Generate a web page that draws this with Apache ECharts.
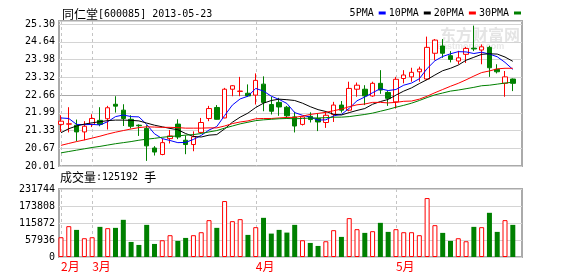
<!DOCTYPE html>
<html><head><meta charset="utf-8">
<script src="https://cdn.jsdelivr.net/npm/echarts@6/dist/echarts.min.js"></script>
<style>html,body{margin:0;padding:0;background:#fff}#c{width:578px;height:276px}</style>
</head><body><div id="c"></div>
<script>
const dates = ['2013-02-25','2013-02-26','2013-02-27','2013-02-28',
'2013-03-01','2013-03-04','2013-03-05','2013-03-06','2013-03-07','2013-03-08','2013-03-11','2013-03-12','2013-03-13','2013-03-14','2013-03-15','2013-03-18','2013-03-19','2013-03-20','2013-03-21','2013-03-22','2013-03-25','2013-03-26','2013-03-27','2013-03-28','2013-03-29',
'2013-04-01','2013-04-02','2013-04-03','2013-04-08','2013-04-09','2013-04-10','2013-04-11','2013-04-12','2013-04-15','2013-04-16','2013-04-17','2013-04-18','2013-04-19','2013-04-22','2013-04-23','2013-04-24','2013-04-25','2013-04-26',
'2013-05-02','2013-05-03','2013-05-06','2013-05-07','2013-05-08','2013-05-09','2013-05-10','2013-05-13','2013-05-14','2013-05-15','2013-05-16','2013-05-17','2013-05-20','2013-05-21','2013-05-22','2013-05-23'];

const opens  = [21.56,21.57,21.53,21.28,21.56,21.71,21.77,22.31,22.09,21.75,21.53,21.41,20.68,20.44,21.03,21.57,20.97,20.81,21.26,21.78,22.19,21.80,22.87,22.79,22.72,22.65,23.06,22.30,22.38,22.20,21.84,21.56,21.86,21.78,21.63,21.93,22.28,22.09,22.87,22.87,22.62,23.09,22.75,22.40,23.27,23.33,23.52,23.25,24.21,24.48,24.12,23.92,24.17,24.40,24.33,24.43,23.61,23.09,23.25];
const closes = [21.68,21.58,21.28,21.49,21.78,21.56,22.18,22.24,21.78,21.49,21.51,20.76,20.53,20.88,21.13,21.09,20.81,21.10,21.63,22.15,21.75,22.87,23.00,22.80,22.62,23.20,22.38,22.05,22.21,21.88,21.50,21.84,21.74,21.65,21.90,22.28,22.09,22.90,23.02,22.62,23.09,22.84,22.53,23.24,23.40,23.50,23.62,24.43,24.70,24.21,23.98,24.04,24.39,24.37,24.45,23.67,23.52,23.33,23.09];
const lows   = [21.28,21.26,20.93,20.97,21.46,21.49,21.37,22.00,21.50,21.41,21.13,20.20,20.40,20.41,20.85,21.01,20.45,20.56,21.22,21.68,21.74,21.79,22.61,22.61,22.59,22.30,22.05,21.93,21.88,21.80,21.26,21.52,21.63,21.31,21.43,21.65,22.00,22.05,22.59,22.28,22.59,22.70,22.25,22.15,23.09,23.15,23.15,23.21,23.95,24.04,23.87,23.80,23.85,24.29,23.80,23.33,23.46,22.59,22.80];
const highs  = [21.90,22.20,21.74,21.68,21.94,22.20,22.25,22.61,22.31,21.90,21.56,21.53,20.75,21.03,21.35,21.75,21.15,21.30,21.80,22.25,22.28,22.92,23.02,23.33,23.05,23.46,23.35,22.59,22.55,22.25,22.03,21.86,22.01,21.98,22.05,22.40,22.43,23.15,23.12,23.02,23.15,23.58,22.80,23.33,23.58,23.67,23.71,24.83,24.74,24.74,24.29,24.30,24.45,25.24,24.54,24.49,23.80,23.55,23.27];

const ma5  = [21.80,21.78,21.56,21.55,21.56,21.54,21.66,21.85,21.91,21.85,21.84,21.56,21.21,21.03,20.96,20.88,20.89,21.00,21.15,21.35,21.48,21.89,22.28,22.51,22.61,22.90,22.80,22.61,22.49,22.34,22.00,21.90,21.83,21.72,21.73,21.88,21.93,22.16,22.44,22.58,22.74,22.89,22.82,22.86,23.02,23.10,23.26,23.64,23.93,24.09,24.19,24.27,24.26,24.20,24.25,24.18,24.08,23.87,23.61];
const ma10 = [21.25,21.40,21.50,21.57,21.62,21.66,21.70,21.72,21.72,21.71,21.69,21.61,21.53,21.47,21.41,21.36,21.22,21.11,21.09,21.16,21.18,21.39,21.64,21.83,21.98,22.19,22.35,22.45,22.50,22.48,22.45,22.35,22.22,22.11,22.04,21.94,21.91,22.00,22.08,22.15,22.31,22.41,22.49,22.65,22.80,22.92,23.08,23.23,23.40,23.56,23.65,23.77,23.95,24.06,24.17,24.19,24.18,24.07,23.91];
const ma20 = [20.78,20.85,20.92,20.98,21.05,21.12,21.20,21.27,21.33,21.39,21.44,21.47,21.46,21.45,21.45,21.44,21.42,21.42,21.42,21.43,21.43,21.50,21.59,21.65,21.69,21.77,21.78,21.78,21.80,21.82,21.82,21.87,21.93,21.97,22.01,22.07,22.13,22.22,22.29,22.32,22.38,22.38,22.36,22.38,22.42,22.43,22.50,22.61,22.74,22.86,22.98,23.09,23.22,23.36,23.49,23.55,23.63,23.65,23.65];
const ma30 = [20.50,20.55,20.60,20.65,20.70,20.74,20.79,20.84,20.88,20.92,20.97,21.01,21.04,21.08,21.11,21.13,21.16,21.18,21.22,21.28,21.33,21.42,21.50,21.58,21.64,21.70,21.73,21.75,21.77,21.78,21.77,21.78,21.80,21.80,21.81,21.83,21.83,21.85,21.89,21.93,21.98,22.05,22.12,22.20,22.27,22.35,22.45,22.56,22.66,22.73,22.80,22.84,22.89,22.94,23.00,23.02,23.06,23.10,23.13];

const volumes = [67400,105100,92400,64000,67400,102700,98200,99300,126700,51300,41100,109500,44500,57100,74300,54800,65000,74300,84500,125600,99300,190700,122200,129000,75300,101700,133500,79800,92400,83200,109500,57100,47900,37700,53700,91400,68500,132500,94800,82200,88000,116400,85600,94800,84500,84500,74300,200900,108500,82200,54800,64000,53700,102700,101700,150600,85600,125600,109500];

const priceTickLabels  = ['20.01','20.67','21.33','21.99','22.66','23.32','23.98','24.64','25.30'];
const volumeTickLabels = ['0','57936','115872','173808','231744'];
const monthLabels = ['2月','3月','4月','5月'];
const maNames = ['5PMA','10PMA','20PMA','30PMA'];
const stockName = '同仁堂';
const stockCodeDate = '[600085] 2013-05-23';
const volCaption = '成交量';
const volValueText = ':125192 ';
const volUnit = '手';

const MONO = "'DejaVu Sans Mono', 'Liberation Mono', monospace";
const CJK = "'Noto Sans CJK SC', sans-serif";
const RED = '#ff0000', GREEN = '#008000';

const priceMin = parseFloat(priceTickLabels[0]);
const priceMax = parseFloat(priceTickLabels[priceTickLabels.length - 1]);
const nPriceInt = priceTickLabels.length - 1;
const priceStep = (priceMax - priceMin) / nPriceInt;
const topPad = 3 / 17.75;
const volMax = parseFloat(volumeTickLabels[volumeTickLabels.length - 1]);
const volStep = parseFloat(volumeTickLabels[1]);

const monthStarts = [];
dates.forEach((d, i) => { if (i === 0 || d.slice(5, 7) !== dates[i - 1].slice(5, 7)) monthStarts.push(i); });

const candleData = dates.map((d, i) => [opens[i], closes[i], lows[i], highs[i]]);
const isUp = i => closes[i] >= opens[i];
const volData = volumes.map((v, i) => ({
  value: v,
  itemStyle: isUp(i) ? { color: '#ffffff', borderColor: RED, borderWidth: 1 } : { color: GREEN, borderColor: GREEN, borderWidth: 0 }
}));

function monthLineSeries(xi, yi) {
  return {
    type: 'custom', xAxisIndex: xi, yAxisIndex: yi, silent: true, z: 1, clip: false,
    data: monthStarts.map(i => [i]),
    encode: { x: 0 },
    renderItem: (params, api) => {
      const cs = params.coordSys;
      const x = Math.round(api.coord([api.value(0), 0])[0]) + 0.5;
      return {
        type: 'line',
        shape: { x1: x, y1: cs.y, x2: x, y2: cs.y + cs.height },
        style: { stroke: '#c4c4c4', lineWidth: 1, lineDash: [3, 3] }
      };
    }
  };
}

const gridMainTop = 21, gridMainBottom = 110, gridVolTop = 189, gridVolBottom = 19;
const frameL = 59, frameR = 56, dataL = 57.1, dataR = 61.3;

const splitColors = priceTickLabels.map((t, k) => k === 4 ? '#a8a8a8' : '#d4d4d4').concat(['#d4d4d4']);
const richText = {
  c: { fontFamily: CJK, fontSize: 12, fontWeight: 'normal', color: '#000', lineHeight: 16 },
  a: { fontFamily: MONO, fontSize: 10, fontWeight: 'normal', color: '#000', lineHeight: 16 }
};

const option = {
  animation: false,
  backgroundColor: '#ffffff',
  title: [
    { text: '{c|' + stockName + '}{a|' + stockCodeDate + '}', left: 62, top: 6, padding: 0,
      textStyle: { fontWeight: 'normal', rich: richText } },
    { text: '{c|' + volCaption + '}{a|' + volValueText + '}{c|' + volUnit + '}', left: 60, top: 169, padding: 0,
      textStyle: { fontWeight: 'normal', rich: richText } }
  ],
  legend: {
    data: maNames, right: 57, top: 8, padding: 0, itemGap: 3,
    icon: 'rect', itemWidth: 7, itemHeight: 3, align: 'right', selectedMode: false,
    textStyle: { fontFamily: MONO, fontSize: 10, color: '#000' }
  },
  graphic: [
    { type: 'text', left: 440, top: 27, z: -1, silent: true, style: { text: '东方财富网', font: 'bold 16px ' + CJK, fill: '#e4e4e4' } },
    { type: 'text', left: 437, top: 42, z: -1, silent: true, style: { text: 'eastmoney.com', font: 'bold 9px Arial', fill: '#e8e8e8' } }
  ],
  grid: [
    { left: frameL, right: frameR, top: gridMainTop, bottom: gridMainBottom, show: true, borderColor: '#aaaaaa', borderWidth: 2, backgroundColor: 'transparent' },
    { left: dataL, right: dataR, top: gridMainTop, bottom: gridMainBottom },
    { left: frameL, right: frameR, top: gridVolTop, bottom: gridVolBottom, show: true, borderColor: '#aaaaaa', borderWidth: 2, backgroundColor: 'transparent' },
    { left: dataL, right: dataR, top: gridVolTop, bottom: gridVolBottom }
  ],
  xAxis: [
    { type: 'value', gridIndex: 0, min: 0, max: 1, show: false },
    { type: 'category', gridIndex: 1, data: dates, boundaryGap: true, axisLine: { show: false }, axisTick: { show: false }, axisLabel: { show: false }, splitLine: { show: false } },
    { type: 'value', gridIndex: 2, min: 0, max: 1, show: false },
    { type: 'category', gridIndex: 3, data: dates, boundaryGap: true, axisLine: { show: false }, axisTick: { show: false }, splitLine: { show: false },
      axisLabel: {
        show: true, interval: (idx) => monthStarts.indexOf(idx) >= 0,
        formatter: (val, idx) => { const k = monthStarts.indexOf(idx); return k >= 0 ? monthLabels[k] : ''; },
        color: RED, fontFamily: CJK, fontSize: 12, align: 'left', margin: 3
      } }
  ],
  yAxis: [
    { type: 'value', gridIndex: 0, min: 0, max: nPriceInt + topPad, interval: 1,
      axisLine: { show: false }, axisTick: { show: false },
      splitLine: { show: true, lineStyle: { color: splitColors, width: 1 } },
      axisLabel: { margin: 4, padding: [0, 0, 6, 0], fontFamily: MONO, fontSize: 10, color: '#000',
        formatter: v => { const k = Math.round(v); return (Math.abs(v - k) < 1e-6 && k <= nPriceInt) ? priceTickLabels[k] : ''; } } },
    { type: 'value', gridIndex: 1, min: priceMin, max: priceMax + priceStep * topPad, show: false, splitLine: { show: false } },
    { type: 'value', gridIndex: 2, min: 0, max: volMax, interval: volStep,
      axisLine: { show: false }, axisTick: { show: false },
      splitLine: { show: true, lineStyle: { color: '#d4d4d4', width: 1 } },
      axisLabel: { margin: 4, padding: [6, 0, 0, 0], fontFamily: MONO, fontSize: 10, color: '#000',
        formatter: v => volumeTickLabels[Math.round(v / volStep)] || '' } },
    { type: 'value', gridIndex: 3, min: 0, max: volMax, show: false, splitLine: { show: false } }
  ],
  series: [
    monthLineSeries(1, 1),
    { type: 'candlestick', name: 'k', xAxisIndex: 1, yAxisIndex: 1, data: candleData, barWidth: 5, z: 2,
      itemStyle: { color: '#ffffff', color0: GREEN, borderColor: RED, borderColor0: GREEN, borderWidth: 1 } },
    { type: 'line', name: maNames[0], xAxisIndex: 1, yAxisIndex: 1, data: ma5, showSymbol: false, symbol: 'none', z: 3, color: '#0000ff', lineStyle: { width: 1, color: '#0000ff' } },
    { type: 'line', name: maNames[1], xAxisIndex: 1, yAxisIndex: 1, data: ma10, showSymbol: false, symbol: 'none', z: 3, color: '#000000', lineStyle: { width: 1, color: '#000000' } },
    { type: 'line', name: maNames[2], xAxisIndex: 1, yAxisIndex: 1, data: ma20, showSymbol: false, symbol: 'none', z: 3, color: RED, lineStyle: { width: 1, color: RED } },
    { type: 'line', name: maNames[3], xAxisIndex: 1, yAxisIndex: 1, data: ma30, showSymbol: false, symbol: 'none', z: 3, color: GREEN, lineStyle: { width: 1, color: GREEN } },
    monthLineSeries(3, 3),
    { type: 'bar', name: 'vol', xAxisIndex: 3, yAxisIndex: 3, data: volData, barWidth: 5, z: 2 }
  ]
};
const chart = echarts.init(document.getElementById('c'), null, { renderer: 'canvas' });
chart.setOption(option);
</script>
</body></html>
